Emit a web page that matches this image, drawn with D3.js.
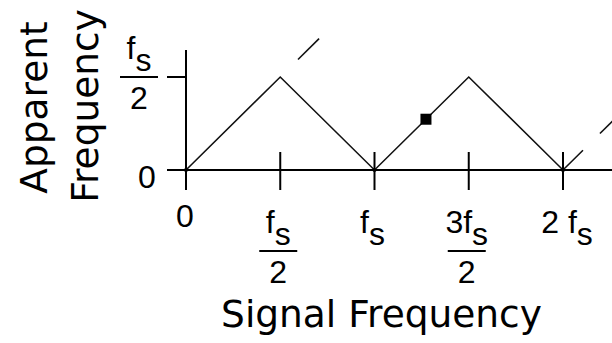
<!DOCTYPE html>
<html>
<head>
<meta charset="utf-8">
<script src="https://cdn.jsdelivr.net/npm/d3@7"></script>
<style>
    body { margin: 0; background: #fff; }
    text { font-family: "Liberation Sans", Arial, sans-serif; fill: #000; }
    text.title { font-family: "DejaVu Sans", sans-serif; }
</style>
</head>
<body>
<div id="chart"></div>
<script>
// Data (frequencies in units of fs)
const x_ticks = [0, 0.5, 1, 1.5, 2];
const x_tick_num = ['0', 'f', 'f', '3f', '2 f'];
const x_tick_sub = ['', 's', 's', 's', 's'];
const x_tick_den = ['', '2', '', '2', ''];

const y_ticks = [0, 0.5];
const y_tick_num = ['0', 'f'];
const y_tick_sub = ['', 's'];
const y_tick_den = ['', '2'];

// apparent (aliased) frequency vs signal frequency
const alias_x = [0, 0.5, 1, 1.5, 2, 2.106];
const alias_y = [0, 0.5, 0, 0.5, 0, 0.106];

// dashes showing the line continuing
const dash_x = [[0.594, 0.706], [2.196, 2.32]];
const dash_y = [[0.594, 0.706], [0.196, 0.32]];

const dot_x = [0, 1, 2];
const marker_x = [1.273];
const marker_y = [0.273];

const chart_width = 612;
const chart_height = 343;

const svg = d3.select('#chart')
    .append('svg')
    .attr('width', chart_width)
    .attr('height', chart_height);

// Scales
const x_scale = d3.scaleLinear()
    .domain([0, 2])
    .range([186, 563]);

const y_scale = d3.scaleLinear()
    .domain([0, 0.5])
    .range([170, 77]);

const x0 = x_scale(0);
const y0 = y_scale(0);

// Axes lines
svg.append('line')
    .attr('x1', x0 - 19).attr('x2', chart_width)
    .attr('y1', y0).attr('y2', y0)
    .attr('stroke', '#000').attr('stroke-width', 2);

svg.append('line')
    .attr('x1', x0).attr('x2', x0)
    .attr('y1', 50).attr('y2', y0 + 20)
    .attr('stroke', '#000').attr('stroke-width', 2);

// X ticks (cross the axis)
svg.append('g')
    .selectAll('line')
    .data(x_ticks)
    .enter()
    .append('line')
    .attr('x1', d => x_scale(d)).attr('x2', d => x_scale(d))
    .attr('y1', y0 - 18).attr('y2', y0 + 20)
    .attr('stroke', '#000').attr('stroke-width', 2);

// Y ticks
svg.append('g')
    .selectAll('line')
    .data(y_ticks)
    .enter()
    .append('line')
    .attr('x1', x0 - 19).attr('x2', x0)
    .attr('y1', d => y_scale(d)).attr('y2', d => y_scale(d))
    .attr('stroke', '#000').attr('stroke-width', 2);

// fraction-style tick label
function draw_label(g, cx, base, num, sub, den) {
    const t = g.append('text')
        .attr('x', cx)
        .attr('y', base)
        .attr('text-anchor', 'middle')
        .style('font-size', '32px')
        .text(num);
    if (sub) {
        t.append('tspan').attr('dy', 12).text(sub);
    }
    if (den) {
        g.append('line')
            .attr('x1', cx - 19).attr('x2', cx + 19)
            .attr('y1', base + 18).attr('y2', base + 18)
            .attr('stroke', '#000').attr('stroke-width', 2);
        g.append('text')
            .attr('x', cx)
            .attr('y', base + 50)
            .attr('text-anchor', 'middle')
            .style('font-size', '32px')
            .text(den);
    }
}

const x_labels = svg.append('g');
x_ticks.forEach((d, i) => {
    const cx = x_scale(d) + (i === 0 ? -1 : (i === 4 ? 4 : -2));
    const base = x_tick_sub[i] ? 233 : 227;
    draw_label(x_labels, cx, base, x_tick_num[i], x_tick_sub[i], x_tick_den[i]);
});

const y_labels = svg.append('g');
y_ticks.forEach((d, i) => {
    if (y_tick_sub[i]) {
        draw_label(y_labels, 139, y_scale(d) - 18, y_tick_num[i], y_tick_sub[i], y_tick_den[i]);
    } else {
        draw_label(y_labels, 147, y_scale(d) + 18, y_tick_num[i], '', '');
    }
});

// Alias line
const line = d3.line()
    .x(d => x_scale(d[0]))
    .y(d => y_scale(d[1]));

svg.append('path')
    .datum(alias_x.map((d, i) => [d, alias_y[i]]))
    .attr('d', line)
    .attr('fill', 'none')
    .attr('stroke', '#111')
    .attr('stroke-width', 1.6);

svg.append('g')
    .selectAll('path')
    .data(dash_x.map((d, i) => d.map((v, j) => [v, dash_y[i][j]])))
    .enter()
    .append('path')
    .attr('d', line)
    .attr('fill', 'none')
    .attr('stroke', '#111')
    .attr('stroke-width', 1.6);

// dots at zero crossings
svg.append('g')
    .selectAll('circle')
    .data(dot_x)
    .enter()
    .append('circle')
    .attr('cx', d => x_scale(d))
    .attr('cy', y0)
    .attr('r', 2)
    .attr('fill', '#000');

// marker
svg.append('g')
    .selectAll('rect')
    .data(marker_x)
    .enter()
    .append('rect')
    .attr('x', d => x_scale(d) - 5.5)
    .attr('y', (d, i) => y_scale(marker_y[i]) - 5.5)
    .attr('width', 11)
    .attr('height', 11)
    .attr('fill', '#000');

// Axis titles
svg.append('text')
    .attr('class', 'title')
    .attr('x', 381.5)
    .attr('y', 327)
    .attr('text-anchor', 'middle')
    .style('font-size', '37.5px')
    .text('Signal Frequency');

svg.append('text')
    .attr('class', 'title')
    .attr('transform', 'translate(47,107.5) rotate(-90)')
    .attr('text-anchor', 'middle')
    .style('font-size', '37.5px')
    .text('Apparent');

svg.append('text')
    .attr('class', 'title')
    .attr('transform', 'translate(98,106) rotate(-90)')
    .attr('text-anchor', 'middle')
    .style('font-size', '37.5px')
    .text('Frequency');
</script>
</body>
</html>
